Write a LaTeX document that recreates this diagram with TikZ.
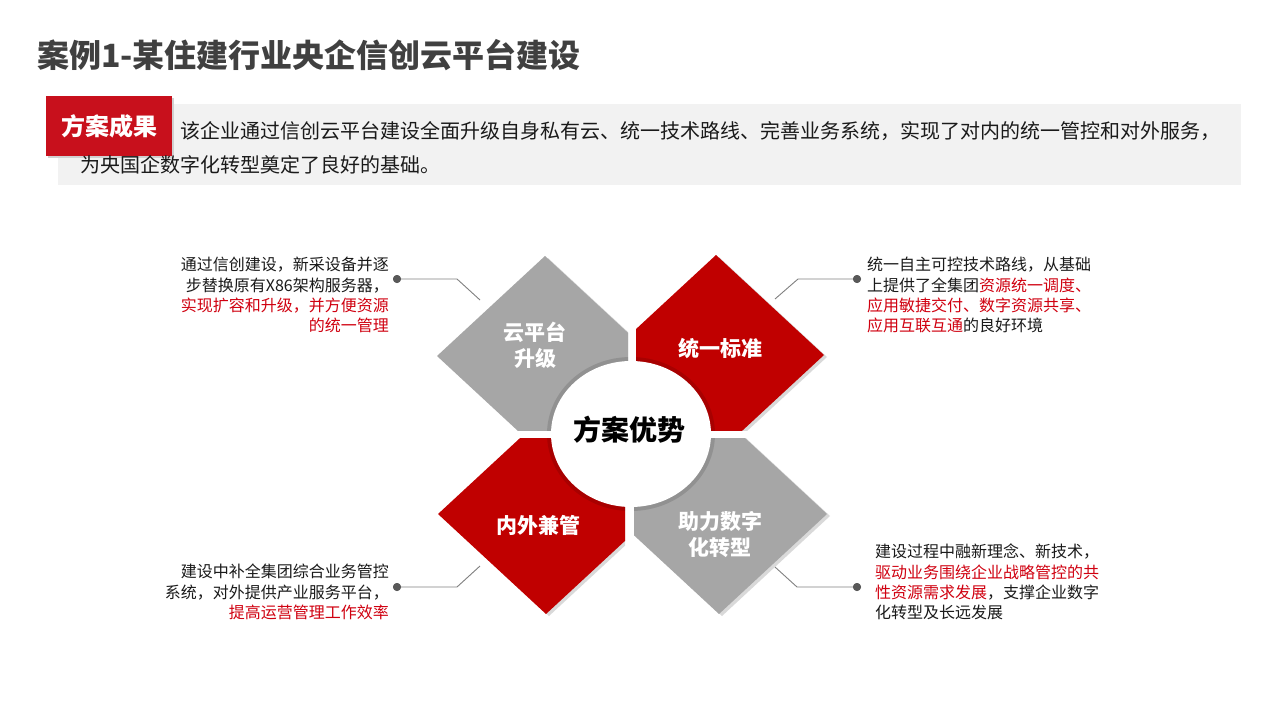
\documentclass[tikz,border=0pt]{standalone}
\usepackage{fontspec}
\setmainfont{Noto Sans CJK SC}
\usetikzlibrary{calc}
\definecolor{cred}{HTML}{C00000}
\definecolor{boxred}{HTML}{C8101C}
\definecolor{cgray}{HTML}{A6A6A6}
\definecolor{band}{HTML}{F2F2F2}
\definecolor{titlec}{HTML}{404040}
\definecolor{txt}{HTML}{1A1A1A}
\definecolor{tred}{HTML}{D00010}
\definecolor{linec}{HTML}{808080}
\definecolor{dotc}{HTML}{595959}
\newcommand\fsz[2]{\fontsize{#1}{#2}\selectfont}
\begin{document}
\begin{tikzpicture}[x=1pt,y=-1pt,
  shapelabel/.style={text=white,font=\fsz{21}{26}\bfseries,align=center,inner sep=0pt},
  callout/.style={text=txt,font=\fsz{16}{20.3},inner sep=0pt},
  conn/.style={draw=linec,line width=0.9pt},
  dotnode/.style={circle,fill=dotc,inner sep=0pt,minimum size=8pt},
  shadowfill/.style={fill=black!15},
  rim/.style={fill=black,opacity=0.12}
]
\useasboundingbox (0,0) rectangle (1280,720);
\fill[white] (0,0) rectangle (1280,720);

% title
\node[anchor=west,inner sep=0pt,text=titlec,font=\fsz{32}{38}\bfseries] (title) at (37,55) {案例1-某住建行业央企信创云平台建设};

% band and result box
\fill[band] (58,104) rectangle (1241,185);
\fill[black!18] (48,98) rectangle (174,158);
\node[fill=boxred,minimum width=126pt,minimum height=60pt,inner sep=0pt,anchor=north west,text=white,font=\fsz{24}{28}\bfseries] (res) at (46,96) {方案成果};
\node[anchor=west,inner sep=0pt,text=txt,font=\fsz{20}{24}] (l1) at (180,131) {该企业通过信创云平台建设全面升级自身私有云、统一技术路线、完善业务系统，实现了对内的统一管控和对外服务，};
\node[anchor=west,inner sep=0pt,text=txt,font=\fsz{20}{24}] (l2) at (80,165) {为央国企数字化转型奠定了良好的基础。};

% diamonds
\begin{scope}
\clip (400,240) rectangle (628,430);
\fill[shadowfill] (440,358) -- (548,258) -- (656,358) -- (548,458) -- cycle;
\fill[cgray] (437,356) -- (545,256) -- (653,356) -- (545,456) -- cycle;
\clip (437,356) -- (545,256) -- (653,356) -- (545,456) -- cycle;
\fill[rim] (631,434) ellipse [x radius=84, y radius=77];
\end{scope}
\begin{scope}
\clip (636,240) rectangle (860,430);
\fill[shadowfill] (611,357) -- (719,257) -- (827,357) -- (719,457) -- cycle;
\fill[cred] (608,355) -- (716,255) -- (824,355) -- (716,455) -- cycle;
\clip (608,355) -- (716,255) -- (824,355) -- (716,455) -- cycle;
\fill[rim] (631,434) ellipse [x radius=84, y radius=77];
\end{scope}
\begin{scope}
\clip (400,438) rectangle (625,630);
\fill[shadowfill] (441,516) -- (549,416) -- (657,516) -- (549,616) -- cycle;
\fill[cred] (438,514) -- (546,414) -- (654,514) -- (546,614) -- cycle;
\clip (438,514) -- (546,414) -- (654,514) -- (546,614) -- cycle;
\fill[rim] (631,434) ellipse [x radius=84, y radius=77];
\end{scope}
\begin{scope}
\clip (634,438) rectangle (860,630);
\fill[shadowfill] (614,516) -- (722,416) -- (830,516) -- (722,616) -- cycle;
\fill[cgray] (611,514) -- (719,414) -- (827,514) -- (719,614) -- cycle;
\clip (611,514) -- (719,414) -- (827,514) -- (719,614) -- cycle;
\fill[rim] (631,434) ellipse [x radius=84, y radius=77];
\end{scope}
\fill[white] (631,434) ellipse [x radius=80, y radius=73];

% labels
\node[shapelabel] (s1) at (535,345) {云平台\\升级};
\node[shapelabel] (s2) at (720,348) {统一标准};
\node[shapelabel] (s3) at (538,525) {内外兼管};
\node[shapelabel] (s4) at (720,535) {助力数字\\化转型};
\node[inner sep=0pt,text=black,font=\fsz{28}{32}\bfseries] (center) at (629,430) {方案优势};

% connectors
\node[dotnode] (d1) at (397,279) {};
\coordinate (b1) at (457,279);
\coordinate (e1) at (480,300);
\draw[conn] (d1.center) -- (b1) -- (e1);
\node[dotnode] (d2) at (857,279) {};
\coordinate (b2) at (798,279);
\coordinate (e2) at (775,299);
\draw[conn] (d2.center) -- (b2) -- (e2);
\node[dotnode] (d3) at (397,587) {};
\coordinate (b3) at (457,587);
\coordinate (e3) at (480,566);
\draw[conn] (d3.center) -- (b3) -- (e3);
\node[dotnode] (d4) at (857,587) {};
\coordinate (b4) at (797,587);
\coordinate (e4) at (775,567);
\draw[conn] (d4.center) -- (b4) -- (e4);
\fill[dotc] (d1) circle (4); \fill[dotc] (d2) circle (4);
\fill[dotc] (d3) circle (4); \fill[dotc] (d4) circle (4);

% callout texts
\node[callout,anchor=north east,align=right] (t1) at (389,257) {通过信创建设，新采设备并逐\\步替换原有X86架构服务器，\\\textcolor{tred}{实现扩容和升级，并方便资源}\\\textcolor{tred}{的统一管理}};
\node[callout,anchor=north west,align=left] (t2) at (867,257) {统一自主可控技术路线，从基础\\上提供了全集团\textcolor{tred}{资源统一调度、}\\\textcolor{tred}{应用敏捷交付、数字资源共享、}\\\textcolor{tred}{应用互联互通}的良好环境};
\node[callout,anchor=north east,align=right] (t3) at (389,564) {建设中补全集团综合业务管控\\系统，对外提供产业服务平台，\\\textcolor{tred}{提高运营管理工作效率}};
\node[callout,anchor=north west,align=left] (t4) at (875,544) {建设过程中融新理念、新技术，\\\textcolor{tred}{驱动业务围绕企业战略管控的共}\\\textcolor{tred}{性资源需求发展}，支撑企业数字\\化转型及长远发展};
\end{tikzpicture}
\end{document}
